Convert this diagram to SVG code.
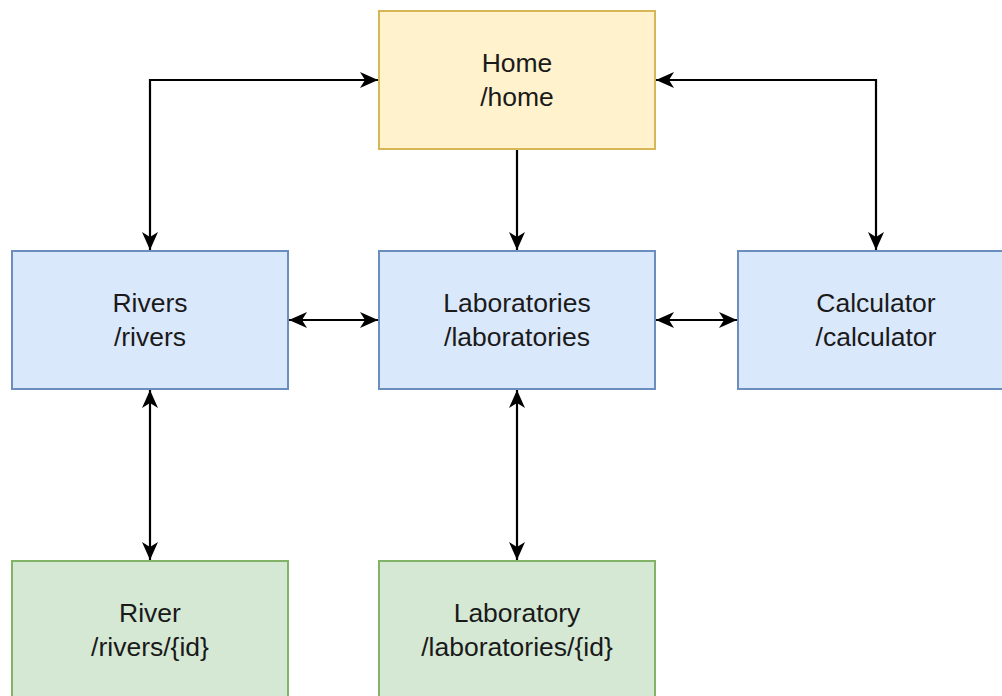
<svg xmlns="http://www.w3.org/2000/svg" width="1002" height="696" viewBox="0 0 1002 696">
<style>
.box{stroke-width:2}
.y{fill:#fff2cc;stroke:#d6b656}
.b{fill:#dae8fc;stroke:#6c8ebf}
.g{fill:#d5e8d4;stroke:#82b366}
text{font-family:"Liberation Sans",Arial,sans-serif;font-size:26.5px;fill:#1a1a1a;text-anchor:middle}
.c{fill:none;stroke:#000;stroke-width:2.2}
</style>
<defs>
<marker id="ae" markerUnits="userSpaceOnUse" markerWidth="22" markerHeight="22" viewBox="-20 -11 22 22" refX="0" refY="0" orient="auto">
<path d="M0,0 L-18,-8 L-13,0 L-18,8 Z" fill="#000"/>
</marker>
<marker id="as" markerUnits="userSpaceOnUse" markerWidth="22" markerHeight="22" viewBox="-20 -11 22 22" refX="0" refY="0" orient="auto-start-reverse">
<path d="M0,0 L-18,-8 L-13,0 L-18,8 Z" fill="#000"/>
</marker>
</defs>
<rect width="1002" height="696" fill="#fff"/>
<g id="connectors">
<path class="c" d="M150,250 V80 H378" marker-start="url(#as)" marker-end="url(#ae)"/>
<path class="c" d="M656,80 H876 V250" marker-start="url(#as)" marker-end="url(#ae)"/>
<path class="c" d="M517,149 V250" marker-end="url(#ae)"/>
<path class="c" d="M289,320 H378" marker-start="url(#as)" marker-end="url(#ae)"/>
<path class="c" d="M656,320 H737" marker-start="url(#as)" marker-end="url(#ae)"/>
<path class="c" d="M150,390 V560" marker-start="url(#as)" marker-end="url(#ae)"/>
<path class="c" d="M517,390 V560" marker-start="url(#as)" marker-end="url(#ae)"/>
</g>
<g id="home">
<rect class="box y" x="379" y="11" width="276" height="138"/>
<text x="517" y="72">Home</text>
<text x="517" y="106">/home</text>
</g>
<g id="rivers">
<rect class="box b" x="12" y="251" width="276" height="138"/>
<text x="150" y="312">Rivers</text>
<text x="150" y="346">/rivers</text>
</g>
<g id="laboratories">
<rect class="box b" x="379" y="251" width="276" height="138"/>
<text x="517" y="312">Laboratories</text>
<text x="517" y="346">/laboratories</text>
</g>
<g id="calculator">
<rect class="box b" x="738" y="251" width="276" height="138"/>
<text x="876" y="312">Calculator</text>
<text x="876" y="346">/calculator</text>
</g>
<g id="river">
<rect class="box g" x="12" y="561" width="276" height="138"/>
<text x="150" y="622">River</text>
<text x="150" y="656">/rivers/{id}</text>
</g>
<g id="laboratory">
<rect class="box g" x="379" y="561" width="276" height="138"/>
<text x="517" y="622">Laboratory</text>
<text x="517" y="656">/laboratories/{id}</text>
</g>
</svg>
